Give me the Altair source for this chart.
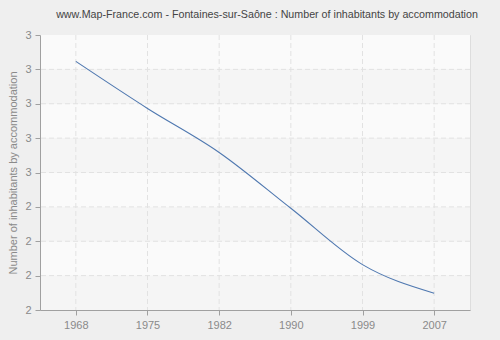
import altair as alt
import pandas as pd

years = ["1968", "1975", "1982", "1990", "1999", "2007"]
values = [2.904, 2.733, 2.573, 2.370, 2.165, 2.061]

band_lo = [2.875, 2.625, 2.375, 2.125, 2.75, 2.5, 2.25, 2.0]
band_hi = [3.0, 2.75, 2.5, 2.25, 2.875, 2.625, 2.375, 2.125]
band_kind = ["hatch", "hatch", "hatch", "hatch", "plain", "plain", "plain", "plain"]

y_ticks = [2.0, 2.125, 2.25, 2.375, 2.5, 2.625, 2.75, 2.875, 3.0]

df = pd.DataFrame({"year": years, "value": values})
bands = pd.DataFrame({"lo": band_lo, "hi": band_hi, "kind": band_kind})
ygrid = pd.DataFrame({"v": y_ticks})
xgrid = pd.DataFrame({"year": years})

FONT = "Liberation Sans"
GRID = "#e2e2e2"
yscale = alt.Scale(domain=[2, 3], nice=False, zero=False)
xscale = alt.Scale(type="point", padding=0.5, domain=years)
yaxis = alt.Axis(title="Number of inhabitants by accommodation",
                 values=y_ticks, labelOverlap=False,
                 labelExpr="format(datum.value, '.0f')",
                 grid=False, zindex=1,
                 domainColor="#a0a0a0", tickColor="#a0a0a0", tickSize=5,
                 labelColor="#8a8a8a", labelFontSize=11, labelFont=FONT, labelPadding=4,
                 titleColor="#8a8a8a", titleFontSize=11, titleFont=FONT, titleFontWeight="normal",
                 titlePadding=6)
xaxis = alt.Axis(title=None, labelAngle=0, grid=False, zindex=1,
                 domainColor="#a0a0a0", tickColor="#a0a0a0", tickSize=5,
                 labelColor="#8a8a8a", labelFontSize=11, labelFont=FONT, labelPadding=4)

band_layer = alt.Chart(bands).mark_rect().encode(
    x=alt.value(0),
    x2=alt.value("width"),
    y=alt.Y("lo:Q", scale=yscale, axis=yaxis),
    y2="hi:Q",
    color=alt.Color("kind:N", scale=alt.Scale(domain=["hatch", "plain"], range=["#fafafa", "#f5f5f5"]), legend=None),
)

hgrid_layer = alt.Chart(ygrid).transform_filter("datum.v > 2 && datum.v < 3").mark_rule(
    color=GRID, strokeDash=[5, 3], strokeWidth=1).encode(
    y=alt.Y("v:Q", scale=yscale, axis=yaxis),
)

vgrid_layer = alt.Chart(xgrid).mark_rule(color=GRID, strokeDash=[5, 3], strokeWidth=1).encode(
    x=alt.X("year:O", scale=xscale, axis=xaxis),
)

line_layer = alt.Chart(df).mark_line(interpolate="monotone", color="#4f78b0", strokeWidth=1.1).encode(
    x=alt.X("year:O", scale=xscale, axis=xaxis),
    y=alt.Y("value:Q", scale=yscale, axis=yaxis),
)

chart = alt.layer(band_layer, hgrid_layer, vgrid_layer, line_layer).properties(
    width=430, height=275,
    title=alt.TitleParams("www.Map-France.com - Fontaines-sur-Saône : Number of inhabitants by accommodation",
                          fontSize=10.7, font=FONT, fontWeight="normal", color="#444444",
                          anchor="middle", offset=8, dx=12),
    autosize=alt.AutoSizeParams(type="none"),
    padding={"left": 40, "top": 35, "right": 30, "bottom": 30},
    background="#efefef",
).configure_view(stroke="#dddddd").configure(font=FONT)

chart.save("out.html", embed_options={"renderer": "svg", "actions": False})
